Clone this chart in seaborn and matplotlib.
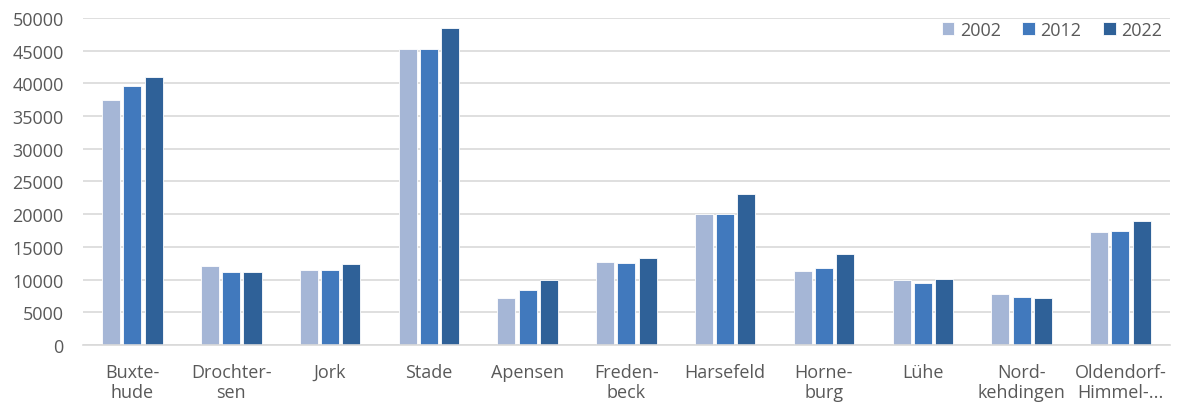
import numpy as np
import pandas as pd
import matplotlib
matplotlib.use("Agg")
import matplotlib.pyplot as plt
import seaborn as sns
from matplotlib.ticker import FixedLocator

# data
orte = ["Buxte-\nhude", "Drochter-\nsen", "Jork", "Stade", "Apensen",
        "Freden-\nbeck", "Harsefeld", "Horne-\nburg", "Lühe",
        "Nord-\nkehdingen", "Oldendorf-\nHimmel-..."]
jahre = ["2002", "2012", "2022"]
werte_2002 = [37500, 12100, 11500, 45200, 7200, 12650, 20100, 11300, 9950, 7750, 17200]
werte_2012 = [39600, 11150, 11500, 45200, 8350, 12500, 19950, 11750, 9550, 7400, 17400]
werte_2022 = [40900, 11150, 12350, 48400, 9950, 13300, 23050, 13900, 10150, 7200, 18900]
farben = ["#A5B6D6", "#4179BD", "#2F6198"]

df = pd.DataFrame({
    "Ort": orte * 3,
    "Jahr": [j for j in jahre for _ in orte],
    "Wert": werte_2002 + werte_2012 + werte_2022,
})

sns.set_style("white")
plt.rcParams["font.family"] = ["Open Sans", "DejaVu Sans"]
grau = "#595959"
fs = 13

fig = plt.figure(figsize=(11.78, 4.10), dpi=100)
ax = fig.add_axes([0.0705, 0.156, 0.9225, 0.798])

sns.barplot(data=df, x="Ort", y="Wert", hue="Jahr", palette=farben,
            saturation=1, width=0.645, gap=0.15, ax=ax,
            edgecolor="white", linewidth=0.6, errorbar=None)

ax.set_ylim(0, 50000)
ax.set_xlim(-0.5, len(orte) - 0.5)
ax.set_yticks(np.arange(0, 50001, 5000))
ax.yaxis.grid(True, color="#D9D9D9", linewidth=1.2)
ax.set_axisbelow(True)
ax.set_xlabel("")
ax.set_ylabel("")

for s in ["top", "right", "left"]:
    ax.spines[s].set_visible(False)
ax.spines["bottom"].set_color("#D9D9D9")
ax.spines["bottom"].set_linewidth(1.2)

ax.tick_params(axis="y", length=0, labelsize=fs, labelcolor=grau, pad=14)
ax.tick_params(axis="x", which="major", length=0, labelsize=fs,
               labelcolor=grau, pad=13)
ax.xaxis.set_minor_locator(FixedLocator(np.arange(-0.5, len(orte), 1.0)))
ax.tick_params(axis="x", which="minor", length=8, width=1.2, color="#D9D9D9")
for lab in ax.get_xticklabels():
    lab.set_linespacing(1.15)

ax.legend(loc="upper right", ncol=3, frameon=False, fontsize=fs,
          labelcolor=grau, handlelength=0.7, handleheight=0.7,
          handletextpad=0.3, columnspacing=1.2,
          bbox_to_anchor=(1.008, 1.04))

fig.savefig("out.png", dpi=100)
